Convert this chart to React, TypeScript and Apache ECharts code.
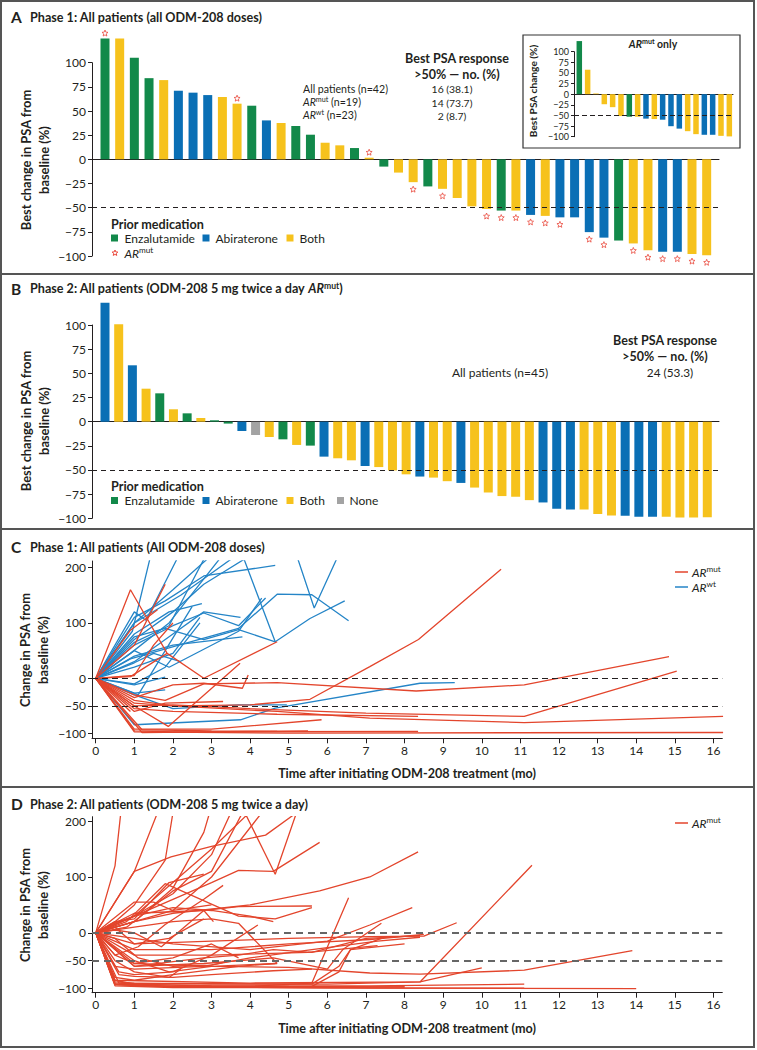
import React, { useEffect, useRef } from 'react';
import * as echarts from 'echarts';

const FONT = 'Lato, "Noto Sans", sans-serif';
const INK = '#231f20';
const GREEN = '#12894A';
const BLUE = '#0A6FB5';
const YELLOW = '#F6C21C';
const GRAY = '#A3A3A3';
const RED_LINE = '#E3452C';
const BLUE_LINE = '#2585C7';
const STAR = '#E8392B';

// ---------- Panel A: phase 1 waterfall ----------
const phase1Values = [125, 125, 105, 84, 82, 71, 69, 66.5, 64.5, 57.6, 55.5, 40.3, 37.6, 34.5, 25.5, 17.2, 14.5, 11.7, 1.7, -7.5, -13.7, -23.6, -28, -30.5, -40, -48.6, -51.4, -53, -53, -57.5, -58.5, -60, -60, -75.3, -81, -84, -87, -94, -95.5, -95.5, -98, -99.3];
const phase1Meds = ['E', 'B', 'E', 'E', 'B', 'A', 'A', 'A', 'B', 'B', 'E', 'A', 'B', 'E', 'E', 'B', 'B', 'E', 'B', 'E', 'B', 'B', 'E', 'B', 'B', 'B', 'B', 'E', 'B', 'A', 'B', 'A', 'A', 'A', 'A', 'E', 'B', 'B', 'A', 'A', 'B', 'B'];
const phase1Mut = [1, 0, 0, 0, 0, 0, 0, 0, 0, 1, 0, 0, 0, 0, 0, 0, 0, 0, 1, 0, 0, 1, 0, 1, 0, 0, 1, 1, 1, 1, 1, 1, 0, 1, 1, 0, 1, 1, 1, 1, 1, 1];

// ---------- Panel B: phase 2 waterfall ----------
const phase2Values = [123, 100.7, 58.3, 34.1, 29.3, 12.8, 8.6, 3.8, 1.4, -2, -9.7, -13.8, -15.9, -18.3, -24.1, -24.8, -36.2, -37.9, -40, -45.9, -47, -50.5, -54.5, -56.8, -57.9, -61.6, -63.4, -68.2, -73.3, -77, -77.7, -81.2, -83.6, -90, -91, -91, -95.5, -97, -97.3, -98.3, -98.3, -98.3, -99.3, -99.3, -99];
const phase2Meds = ['A', 'B', 'A', 'B', 'E', 'B', 'E', 'B', 'E', 'E', 'A', 'N', 'B', 'E', 'B', 'E', 'A', 'B', 'B', 'A', 'B', 'B', 'B', 'A', 'B', 'B', 'A', 'B', 'B', 'B', 'B', 'B', 'A', 'A', 'A', 'B', 'B', 'B', 'A', 'A', 'A', 'B', 'B', 'B', 'B'];

// ---------- Panel C: phase 1 PSA over time ----------
const phase1WtLines = [
  [[0, 0], [0.95, 85], [1.4, 215]],
  [[0, 0], [1, 120], [1.3, 105], [2.1, 215]],
  [[0, 0], [1, 65], [1.9, 95], [2.8, 215]],
  [[0, 0], [0.9, 45], [1.9, 100], [3.2, 215]],
  [[0, 0], [1, 100], [2.2, 150], [3.5, 215]],
  [[0, 0], [1, 110], [1.8, 140], [2.8, 185], [4.65, 204]],
  [[0, 0], [1, 80], [1.9, 120], [2.75, 135]],
  [[0, 0], [1, 30], [2, 80], [2.8, 120], [3.75, 110]],
  [[0, 0], [1, 75], [1.8, 90], [2.8, 70], [3.7, 88], [4.65, 66], [5.55, 108], [6.45, 140]],
  [[0, 0], [1, 60], [2, 95], [2.8, 118], [3.7, 95], [4.4, 145]],
  [[0, 0], [0.9, 35], [1.9, 55], [3.7, 90], [4.7, 152], [5.6, 151], [6.55, 104]],
  [[0, 0], [1, 100], [2, 160], [3.6, 260], [4.65, 66]],
  [[0, 0], [1, 70], [2, 120], [2.8, 170], [5.0, 265], [5.66, 127], [6.4, 240]],
  [[0, 0], [1, 20], [2, 45], [2.7, 110]],
  [[0, 0], [1, -10], [1.8, 20], [2.7, 100]],
  [[0, 0], [1, -27], [1.8, -21]],
  [[0, 0], [1, -30], [2, -55], [3.7, -48], [4.95, -48]],
  [[0, 0], [1, -84], [3.75, -75], [4.65, -54], [8.4, -9], [9.3, -8]],
  [[0, 0], [1, -12], [1.8, 2]],
  [[0, 0], [1, 40], [2, 60], [3.8, 75]],
  [[0, 0], [1, 50], [1.9, 20], [3.7, 85], [4.3, 145]],
  [[0, 0], [1, 28], [1.5, 45], [2.2, 30]],
  [[0, 0], [1.1, -30], [1.8, 50], [2.5, 130]],
];
const phase1MutLines = [
  [[0, 0], [0.9, 160], [1.85, 45], [2.8, 0], [4.7, 66]],
  [[0, 0], [1, 60], [1.8, 170]],
  [[0, 0], [1, 5], [1.5, 60], [2, 100]],
  [[0, 0], [1, -30], [1.8, -40], [2.8, -10], [4.7, -8], [8.3, -23], [11.1, -12], [14.85, 39]],
  [[0, 0], [1, -45], [2, -50], [4, -48], [5.55, -38], [7.1, 21], [8.36, 70], [10.5, 197]],
  [[0, 0], [1, -50], [2, -48], [4, -55], [7, -63], [11.1, -69], [15.05, 13]],
  [[0, 0], [1, -40], [2, -50], [4.7, -60], [7.1, -72], [11.1, -80], [16.25, -69]],
  [[0, 0], [1, -55], [2, -60], [4.7, -65], [8.35, -69]],
  [[0, 0], [1, -95], [2, -97], [8.35, -96]],
  [[0, 0], [1, -97], [5, -99], [16.25, -98]],
  [[0, 0], [1.2, -98], [5.5, -95]],
  [[0, 0], [1, -92], [3, -92], [5.85, -75]],
  [[0, 0], [1, -50], [1.88, -87], [3.74, 27]],
  [[0, 0], [1, -35], [2, -12], [2.8, -9], [3.8, -18], [3.95, 6]],
  [[0, 0], [1, -60], [1.8, -45], [3.3, -42]],
  [[0, 0], [0.9, -60]],
  [[0, 0], [0.9, 3], [1.85, 45]],
  [[0, 0], [0.9, 87], [1.6, 124]],
  [[0, 0], [1.2, -93], [3, -95], [4.7, -96]],
];

// ---------- Panel D: phase 2 PSA over time ----------
const phase2MutLines = [
  [[0, 0], [0.5, 120], [0.65, 215]],
  [[0, 0], [1, 110], [1.6, 215]],
  [[0, 0], [0.5, 20], [1, 50], [1.8, 130], [2, 215]],
  [[0, 0], [1, 20], [2, 80], [2.8, 180], [2.95, 215]],
  [[0, 0], [1, 30], [2, 70], [3, 140], [3.5, 215]],
  [[0, 0], [1, 30], [2, 90], [3, 150], [3.9, 210], [4.65, 105], [5.2, 215]],
  [[0, 0], [1, 110], [1.95, 136], [3, 155], [4.4, 175], [5.2, 215]],
  [[0, 0], [0.8, 10], [2, 75], [3, 110], [3.8, 215]],
  [[0, 0], [1, 20], [2, 40], [3, 100], [4.3, 215]],
  [[0, 0], [1, 30], [2, 60], [3, 90], [3.7, 112], [4.6, 110], [5.8, 162]],
  [[0, 0], [0.8, 20], [1.8, 88], [3.7, 30], [4.65, 25], [5.6, 45]],
  [[0, 0], [1, 35], [2.8, 40], [3.7, 47], [5.6, 48]],
  [[0, 0], [1, 55], [1.5, 55], [2, 40], [3, 50]],
  [[0, 0], [1, 20], [2, 35], [4, 50], [5.8, 75], [7.1, 100], [8.35, 145]],
  [[0, 0], [1, -10], [2, -20], [4, -30], [6, -15], [7.1, 14], [8.2, 45]],
  [[0, 0], [1, -20], [3, -15], [5, -10], [7.1, -7], [8.5, -6], [9.35, 18]],
  [[0, 0], [1, -30], [3, -30], [5, -20], [7.1, -12], [8.5, -3]],
  [[0, 0], [1, -40], [3, -40], [5.5, -35], [7.3, -23]],
  [[0, 0], [0.5, -90], [3, -92], [6, -92], [8.4, -88], [11.3, 121]],
  [[0, 0], [1, -55], [3, -60], [5, -62], [7.1, -72], [8.4, -74], [11.1, -67], [13.9, -32]],
  [[0, 0], [0.5, -85], [4, -90], [8.4, -88], [10, -63]],
  [[0, 0], [0.5, -92], [3, -95], [7.1, -95], [11.1, -92]],
  [[0, 0], [0.5, -93], [2, -97], [7.1, -99], [11.1, -99]],
  [[0, 0], [0.5, -95], [2, -98], [14, -100]],
  [[0, 0], [0.5, -92], [2, -96], [4, -96], [5.6, -90], [6.55, 63]],
  [[0, 0], [1, -60], [2.8, -55], [4.6, -45], [6, -65], [6.4, -30], [7.4, 17]],
  [[0, 0], [0.5, -85], [1, -92], [3, -95], [5, -96], [8, -97]],
  [[0, 0], [0.6, -90], [2, -97], [5.6, -96], [6.3, -70], [6.6, -30], [8, -20]],
  [[0, 0], [0.5, -80], [1, -85], [2, -75], [3.7, -60], [4.65, -55]],
  [[0, 0], [0.5, -50], [1, -70], [1.9, -80], [2.2, -65]],
  [[0, 0], [0.5, -30], [1, -60], [2.8, -45], [3.7, -40], [4.6, -30], [5.6, -35], [7, -10], [8.4, -5]],
  [[0, 0], [1, -50], [1.9, -70], [3, -60], [4.7, -55]],
  [[0, 0], [0.5, -40], [1, -55], [2, -45], [3, -20], [3.7, -45]],
  [[0, 0], [0.5, 10], [1, -20], [1.9, -10], [2.8, 25]],
  [[0, 0], [1, 10], [2, 20], [3, 25], [3.7, 17], [4.7, -55]],
  [[0, 0], [0.5, 5], [1, 0], [1.7, -25], [2.8, 40], [3.05, 20]],
  [[0, 0], [0.6, -70], [1, -75], [2, -70], [3, -40], [4.2, 14]],
  [[0, 0], [0.5, -60], [1, -65], [2.8, -60], [4, -45], [5.6, -30], [7.3, -15], [8.4, -8]],
  [[0, 0], [0.5, -88], [1, -90], [5.6, -92], [6.3, -60], [6.6, -30], [7.4, -10]],
  [[0, 0], [0.5, -93], [2, -97], [6, -98], [8, -97]],
  [[0, 0], [0.6, -75], [1, -78], [2, -80], [3, -75], [4.6, -68], [5.6, -65]],
  [[0, 0], [0.4, 15], [1, 30], [2, 45], [3, 40], [4, 30], [4.6, 20]],
  [[0, 0], [0.5, 20], [1, 25], [1.9, 90], [2.8, 105]],
  [[0, 0], [0.5, -10], [1.1, -45], [2, -60], [3, -58], [3.5, -50]],
  [[0, 0], [0.5, -40], [1.1, -25], [1.8, 15], [2.8, 60], [3.3, 85]],
];

const monthTicks = [0, 1, 2, 3, 4, 5, 6, 7, 8, 9, 10, 11, 12, 13, 14, 15, 16];
const pctTicks = [200, 100, 0, -50, -100];

const medColor: Record<string, string> = { E: GREEN, A: BLUE, B: YELLOW, N: GRAY };
const minus = (v: number) => String(v).replace('-', '\u2212');

function starPoints(cx: number, cy: number, r: number) {
  const pts: number[][] = [];
  for (let k = 0; k < 10; k++) {
    const a = -Math.PI / 2 + (k * Math.PI) / 5;
    const rr = k % 2 === 0 ? r : r * 0.45;
    pts.push([cx + rr * Math.cos(a), cy + rr * Math.sin(a)]);
  }
  return pts;
}
const STAR_PATH = 'path://' + starPoints(50, 50, 50).map((p, i) => (i === 0 ? 'M' : 'L') + p[0].toFixed(1) + ',' + p[1].toFixed(1)).join(' ') + ' Z';

function richSet(size: number, weight: string) {
  const base: any = { fontFamily: FONT, fontSize: size, fontWeight: weight, fill: INK, lineHeight: size, verticalAlign: 'bottom' };
  const sup = Math.round(size * 0.68 * 10) / 10;
  return {
    n: base,
    i: { ...base, fontStyle: 'italic' },
    s: { ...base, fontSize: sup, lineHeight: sup, padding: [0, 0, size * 0.42, 0] },
  };
}

function txt(x: number, y: number, text: string, o: any = {}) {
  const size = o.fontSize || 12;
  const weight = o.fontWeight || 'normal';
  return {
    type: 'text', x, y, rotation: o.rotation || 0, silent: true, z: 50,
    style: {
      text, fontFamily: FONT, fontSize: size, fontWeight: weight, fill: INK,
      align: o.align || 'left', verticalAlign: 'middle', lineHeight: o.lineHeight || size,
      rich: richSet(size, weight),
    },
  };
}

function square(cx: number, cy: number, color: string) {
  return { type: 'rect', silent: true, z: 50, shape: { x: cx - 3.5, y: cy - 3.5, width: 7, height: 7 }, style: { fill: color } };
}

function barXAxis(gridIndex: number, min: number, max: number) {
  return {
    type: 'value', gridIndex, min, max,
    axisLine: { show: true, onZero: true, lineStyle: { color: INK, width: 1 } },
    axisTick: { show: false }, axisLabel: { show: false }, splitLine: { show: false },
  };
}
function barYAxis(gridIndex: number, fontSize: number, tickLen: number) {
  return {
    type: 'value', gridIndex, min: -100, max: 100, interval: 25,
    axisLine: { show: true, onZero: false, lineStyle: { color: INK, width: 1 } },
    axisTick: { show: true, length: tickLen, lineStyle: { color: INK } },
    axisLabel: { fontFamily: FONT, fontSize, color: INK, margin: tickLen + 2, formatter: minus },
    splitLine: { show: false },
  };
}
function timeXAxis(gridIndex: number) {
  return {
    type: 'value', gridIndex, min: -0.096, max: 16.23,
    axisLine: { show: true, onZero: false, lineStyle: { color: INK, width: 1 } },
    axisTick: { show: true, length: 5, customValues: monthTicks, lineStyle: { color: INK } },
    axisLabel: { customValues: monthTicks, fontFamily: FONT, fontSize: 12, color: INK, margin: 6 },
    splitLine: { show: false },
  };
}
function pctYAxis(gridIndex: number, min: number, max: number) {
  return {
    type: 'value', gridIndex, min, max,
    axisLine: { show: true, onZero: false, lineStyle: { color: INK, width: 1 } },
    axisTick: { show: true, length: 4, customValues: pctTicks, lineStyle: { color: INK } },
    axisLabel: { customValues: pctTicks, fontFamily: FONT, fontSize: 12, color: INK, margin: 6, formatter: minus },
    splitLine: { show: false },
  };
}

function dashedAt(values: number[], color: string, width: number, dash: number[]) {
  return {
    silent: true, symbol: 'none', animation: false, label: { show: false },
    lineStyle: { type: dash, color, width },
    data: values.map((v) => ({ yAxis: v })),
  };
}

function lineSeries(lines: number[][][], axis: number, color: string, width: number) {
  return lines.map((pts) => ({
    type: 'line', xAxisIndex: axis, yAxisIndex: axis, data: pts, symbol: 'none', silent: true,
    lineStyle: { color, width }, itemStyle: { color },
  }));
}

const TITLE = 12.6;
const YNAME = 12.9;
const HEAD = 12.5;

function buildOption() {
  const mutIdx = phase1Mut.map((m, i) => (m ? i : -1)).filter((i) => i >= 0);

  const barsA = {
    type: 'bar', xAxisIndex: 0, yAxisIndex: 0, barWidth: 9, clip: false, silent: true,
    data: phase1Values.map((v, i) => ({ value: [i, v], itemStyle: { color: medColor[phase1Meds[i]] } })),
    markLine: dashedAt([-50], INK, 1, [5, 4]),
  };
  const starsA = {
    type: 'scatter', xAxisIndex: 0, yAxisIndex: 0, symbol: STAR_PATH, symbolSize: 6, clip: false, silent: true, z: 5,
    itemStyle: { color: 'rgba(255,255,255,0)', borderColor: STAR, borderWidth: 0.9 },
    data: mutIdx.map((i) => ({ value: [i, phase1Values[i]], symbolOffset: [0, phase1Values[i] >= 0 ? -5.5 : 7] })),
  };
  const barsInset = {
    type: 'bar', xAxisIndex: 1, yAxisIndex: 1, barWidth: 5.5, clip: false, silent: true,
    data: mutIdx.map((i, k) => ({ value: [k, phase1Values[i]], itemStyle: { color: medColor[phase1Meds[i]] } })),
    markLine: dashedAt([-50], INK, 1, [5, 3]),
  };
  const barsB = {
    type: 'bar', xAxisIndex: 2, yAxisIndex: 2, barWidth: 9, clip: false, silent: true,
    data: phase2Values.map((v, i) => ({ value: [i, v], itemStyle: { color: medColor[phase2Meds[i]] } })),
    markLine: dashedAt([-50], INK, 1, [5, 4]),
  };

  const cSeries: any[] = [...lineSeries(phase1WtLines, 3, BLUE_LINE, 1.3), ...lineSeries(phase1MutLines, 3, RED_LINE, 1.3)];
  cSeries[cSeries.length - 1].markLine = dashedAt([0, -50], INK, 1, [6, 4]);
  const dSeries: any[] = lineSeries(phase2MutLines, 4, RED_LINE, 1.3);
  dSeries[dSeries.length - 1].markLine = dashedAt([0, -50], '#666', 2, [7, 5]);

  const graphic: any[] = [
    { type: 'rect', silent: true, shape: { x: 1, y: 1, width: 753, height: 1046 }, style: { fill: 'none', stroke: '#555', lineWidth: 2 } },
    { type: 'line', silent: true, shape: { x1: 1, y1: 274, x2: 754, y2: 274 }, style: { stroke: '#555', lineWidth: 2 } },
    { type: 'line', silent: true, shape: { x1: 1, y1: 529, x2: 754, y2: 529 }, style: { stroke: '#555', lineWidth: 2 } },
    { type: 'line', silent: true, shape: { x1: 1, y1: 787, x2: 754, y2: 787 }, style: { stroke: '#555', lineWidth: 2 } },

    // Panel A
    txt(11, 17, 'A', { fontSize: 15.5, fontWeight: 'bold' }),
    txt(30, 17, 'Phase 1: All patients (all ODM-208 doses)', { fontSize: TITLE, fontWeight: 'bold' }),
    txt(35, 160, 'Best change in PSA from\nbaseline (%)', { fontSize: YNAME, fontWeight: 'bold', align: 'center', rotation: Math.PI / 2, lineHeight: 18.5 }),
    txt(457, 58, 'Best PSA response', { fontSize: HEAD, fontWeight: 'bold', align: 'center' }),
    txt(457, 74, '>50% \u2014 no. (%)', { fontSize: HEAD, fontWeight: 'bold', align: 'center' }),
    txt(303, 89, 'All patients (n=42)', { fontSize: 10.6 }),
    txt(303, 102.5, '{i|AR}{s|mut}{n| (n=19)}', { fontSize: 10.6 }),
    txt(303, 115.5, '{i|AR}{s|wt}{n| (n=23)}', { fontSize: 10.6 }),
    txt(452, 89, '16 (38.1)', { fontSize: 10.4, align: 'center' }),
    txt(452, 102.5, '14 (73.7)', { fontSize: 10.4, align: 'center' }),
    txt(452, 115.5, '2 (8.7)', { fontSize: 10.4, align: 'center' }),
    txt(111, 224, 'Prior medication', { fontSize: 12.6, fontWeight: 'bold' }),
    square(114.5, 238, GREEN), txt(124.5, 238, 'Enzalutamide', { fontSize: 12 }),
    square(206, 238, BLUE), txt(215.5, 238, 'Abiraterone', { fontSize: 12 }),
    square(290, 238, YELLOW), txt(299.5, 238, 'Both', { fontSize: 12 }),
    { type: 'polygon', silent: true, z: 50, shape: { points: starPoints(115, 253, 3) }, style: { fill: 'none', stroke: STAR, lineWidth: 0.9 } },
    txt(124.5, 253, '{i|AR}{s|mut}', { fontSize: 12 }),
    // inset
    { type: 'rect', silent: true, shape: { x: 523, y: 35, width: 217, height: 113 }, style: { fill: '#fff', stroke: '#333', lineWidth: 1.2 }, z: -1 },
    txt(653, 44.5, '{i|AR}{s|mut}{n| only}', { fontSize: 10.5, fontWeight: 'bold', align: 'center' }),
    txt(533, 91, 'Best PSA change (%)', { fontSize: 10.2, fontWeight: 'bold', align: 'center', rotation: Math.PI / 2 }),

    // Panel B
    txt(11, 289, 'B', { fontSize: 15.5, fontWeight: 'bold' }),
    txt(30, 289, '{n|Phase 2: All patients (ODM-208 5 mg twice a day }{i|AR}{s|mut}{n|)}', { fontSize: TITLE, fontWeight: 'bold' }),
    txt(35, 421, 'Best change in PSA from\nbaseline (%)', { fontSize: YNAME, fontWeight: 'bold', align: 'center', rotation: Math.PI / 2, lineHeight: 18.5 }),
    txt(665, 340, 'Best PSA response', { fontSize: HEAD, fontWeight: 'bold', align: 'center' }),
    txt(665, 356, '>50% \u2014 no. (%)', { fontSize: HEAD, fontWeight: 'bold', align: 'center' }),
    txt(500, 372, 'All patients (n=45)', { fontSize: 12, align: 'center' }),
    txt(670, 372, '24 (53.3)', { fontSize: 11.8, align: 'center' }),
    txt(111, 486.5, 'Prior medication', { fontSize: 12.6, fontWeight: 'bold' }),
    square(114.5, 500.5, GREEN), txt(124.5, 500.5, 'Enzalutamide', { fontSize: 12 }),
    square(206, 500.5, BLUE), txt(215.5, 500.5, 'Abiraterone', { fontSize: 12 }),
    square(290, 500.5, YELLOW), txt(299.5, 500.5, 'Both', { fontSize: 12 }),
    square(340.5, 500.5, GRAY), txt(349.5, 500.5, 'None', { fontSize: 12 }),

    // Panel C
    txt(11, 547, 'C', { fontSize: 15.5, fontWeight: 'bold' }),
    txt(30, 547, 'Phase 1: All patients (All ODM-208 doses)', { fontSize: TITLE, fontWeight: 'bold' }),
    txt(34, 650, 'Change in PSA from\nbaseline (%)', { fontSize: YNAME, fontWeight: 'bold', align: 'center', rotation: Math.PI / 2, lineHeight: 18.5 }),
    txt(407, 773, 'Time after initiating ODM-208 treatment (mo)', { fontSize: TITLE, fontWeight: 'bold', align: 'center' }),
    { type: 'line', silent: true, z: 50, shape: { x1: 675, y1: 572, x2: 688, y2: 572 }, style: { stroke: RED_LINE, lineWidth: 1.5 } },
    txt(692, 572, '{i|AR}{s|mut}', { fontSize: 12 }),
    { type: 'line', silent: true, z: 50, shape: { x1: 675, y1: 587, x2: 688, y2: 587 }, style: { stroke: BLUE_LINE, lineWidth: 1.5 } },
    txt(692, 587, '{i|AR}{s|wt}', { fontSize: 12 }),

    // Panel D
    txt(11, 804, 'D', { fontSize: 15.5, fontWeight: 'bold' }),
    txt(30, 804, 'Phase 2: All patients (ODM-208 5 mg twice a day)', { fontSize: TITLE, fontWeight: 'bold' }),
    txt(34, 905, 'Change in PSA from\nbaseline (%)', { fontSize: YNAME, fontWeight: 'bold', align: 'center', rotation: Math.PI / 2, lineHeight: 18.5 }),
    txt(407, 1028, 'Time after initiating ODM-208 treatment (mo)', { fontSize: TITLE, fontWeight: 'bold', align: 'center' }),
    { type: 'line', silent: true, z: 50, shape: { x1: 675, y1: 823, x2: 688, y2: 823 }, style: { stroke: RED_LINE, lineWidth: 1.5 } },
    txt(692, 823, '{i|AR}{s|mut}', { fontSize: 12 }),
  ];

  return {
    animation: false,
    backgroundColor: '#fff',
    textStyle: { fontFamily: FONT },
    grid: [
      { left: 92, top: 62.7, width: 627, height: 193.3 },
      { left: 574, top: 51.7, width: 159, height: 85 },
      { left: 92, top: 325, width: 627, height: 193.3 },
      { left: 92, top: 561, width: 630.3, height: 177.3 },
      { left: 92, top: 816.7, width: 630.3, height: 176 },
    ],
    xAxis: [
      barXAxis(0, -0.886, 41.84),
      barXAxis(1, -0.636, 18.44),
      barXAxis(2, -0.95, 44.855),
      timeXAxis(3),
      timeXAxis(4),
    ],
    yAxis: [
      barYAxis(0, 12, 4),
      barYAxis(1, 9, 3),
      barYAxis(2, 12, 4),
      pctYAxis(3, -108.5, 212),
      pctYAxis(4, -107.3, 208),
    ],
    series: [barsA, starsA, barsInset, barsB, ...cSeries, ...dSeries],
    graphic,
  };
}

export default function App() {
  const ref = useRef<HTMLDivElement>(null);
  useEffect(() => {
    document.body.style.margin = '0';
    const chart = echarts.init(ref.current as HTMLDivElement, null, { renderer: 'svg' });
    chart.setOption(buildOption() as any);
    return () => chart.dispose();
  }, []);
  return <div ref={ref} style={{ width: 757, height: 1050 }} />;
}
